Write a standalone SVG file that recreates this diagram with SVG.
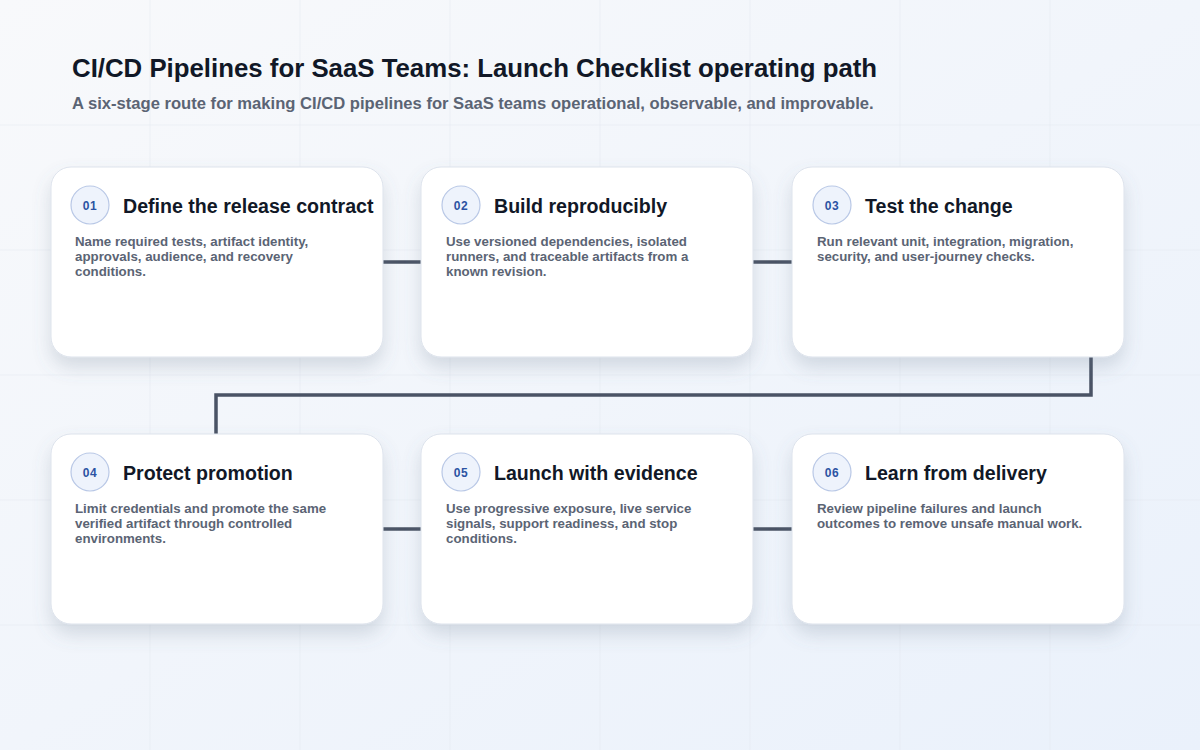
<svg xmlns="http://www.w3.org/2000/svg" width="1200" height="750" viewBox="0 0 1200 750">
  <defs>
    <linearGradient id="bg" x1="0" y1="0" x2="1" y2="1">
      <stop offset="0" stop-color="#f8f9fb"/>
      <stop offset="1" stop-color="#eaf1fb"/>
    </linearGradient>
    <filter id="shadow" x="-20%" y="-20%" width="140%" height="150%">
      <feDropShadow dx="0" dy="10" stdDeviation="9" flood-color="#64748b" flood-opacity="0.22"/>
    </filter>
  </defs>
  <style>
    .title { font-family: "Liberation Sans", Arial, sans-serif; font-weight: 700; font-size: 25.8px; fill: #111827; }
    .subtitle { font-family: "Liberation Sans", Arial, sans-serif; font-weight: 700; font-size: 16.6px; fill: #5b6474; }
    .card { fill: #ffffff; stroke: #dde3ec; stroke-width: 1; filter: url(#shadow); }
    .badge { fill: #eef3fc; stroke: #b9c8e6; stroke-width: 1.2; }
    .num { font-family: "Liberation Sans", Arial, sans-serif; font-weight: 700; font-size: 12px; fill: #2c53a3; text-anchor: middle; letter-spacing: 0.5px; }
    .ctitle { font-family: "Liberation Sans", Arial, sans-serif; font-weight: 700; font-size: 19.6px; fill: #111827; }
    .desc { font-family: "Liberation Sans", Arial, sans-serif; font-weight: 700; font-size: 13.3px; fill: #5b6474; }
    .conn { fill: none; stroke: #4a5365; stroke-width: 3.5; stroke-linejoin: miter; }
    .grid { stroke: #e3e8f0; stroke-width: 1; opacity: 0.5; }
  </style>
  <rect width="1200" height="750" fill="url(#bg)"/>
  <g id="grid">
    <line class="grid" x1="150" y1="0" x2="150" y2="750"/>
    <line class="grid" x1="300" y1="0" x2="300" y2="750"/>
    <line class="grid" x1="450" y1="0" x2="450" y2="750"/>
    <line class="grid" x1="600" y1="0" x2="600" y2="750"/>
    <line class="grid" x1="750" y1="0" x2="750" y2="750"/>
    <line class="grid" x1="900" y1="0" x2="900" y2="750"/>
    <line class="grid" x1="1050" y1="0" x2="1050" y2="750"/>
    <line class="grid" x1="0" y1="125" x2="1200" y2="125"/>
    <line class="grid" x1="0" y1="250" x2="1200" y2="250"/>
    <line class="grid" x1="0" y1="375" x2="1200" y2="375"/>
    <line class="grid" x1="0" y1="500" x2="1200" y2="500"/>
    <line class="grid" x1="0" y1="625" x2="1200" y2="625"/>
  </g>
  <text class="title" x="72" y="77">CI/CD Pipelines for SaaS Teams: Launch Checklist operating path</text>
  <text class="subtitle" x="72" y="109">A six-stage route for making CI/CD pipelines for SaaS teams operational, observable, and improvable.</text>

  <g id="connectors">
    <line class="conn" x1="383" y1="262" x2="421" y2="262"/>
    <line class="conn" x1="753" y1="262" x2="792" y2="262"/>
    <polyline class="conn" points="1091,357 1091,395 216,395 216,434"/>
    <line class="conn" x1="383" y1="529" x2="421" y2="529"/>
    <line class="conn" x1="753" y1="529" x2="792" y2="529"/>
  </g>

  <g id="node-01">
    <rect class="card" x="51" y="167" width="332" height="190" rx="20"/>
    <circle class="badge" cx="90" cy="205" r="19"/>
    <text class="num" x="90" y="209.5">01</text>
    <text class="ctitle" x="123" y="213">Define the release contract</text>
    <text class="desc" x="75" y="246">Name required tests, artifact identity,</text>
    <text class="desc" x="75" y="261">approvals, audience, and recovery</text>
    <text class="desc" x="75" y="276">conditions.</text>
  </g>
  <g id="node-02">
    <rect class="card" x="421" y="167" width="332" height="190" rx="20"/>
    <circle class="badge" cx="461" cy="205" r="19"/>
    <text class="num" x="461" y="209.5">02</text>
    <text class="ctitle" x="494" y="213">Build reproducibly</text>
    <text class="desc" x="446" y="246">Use versioned dependencies, isolated</text>
    <text class="desc" x="446" y="261">runners, and traceable artifacts from a</text>
    <text class="desc" x="446" y="276">known revision.</text>
  </g>
  <g id="node-03">
    <rect class="card" x="792" y="167" width="332" height="190" rx="20"/>
    <circle class="badge" cx="832" cy="205" r="19"/>
    <text class="num" x="832" y="209.5">03</text>
    <text class="ctitle" x="865" y="213">Test the change</text>
    <text class="desc" x="817" y="246">Run relevant unit, integration, migration,</text>
    <text class="desc" x="817" y="261">security, and user-journey checks.</text>
  </g>
  <g id="node-04">
    <rect class="card" x="51" y="434" width="332" height="190" rx="20"/>
    <circle class="badge" cx="90" cy="472" r="19"/>
    <text class="num" x="90" y="476.5">04</text>
    <text class="ctitle" x="123" y="480">Protect promotion</text>
    <text class="desc" x="75" y="513">Limit credentials and promote the same</text>
    <text class="desc" x="75" y="528">verified artifact through controlled</text>
    <text class="desc" x="75" y="543">environments.</text>
  </g>
  <g id="node-05">
    <rect class="card" x="421" y="434" width="332" height="190" rx="20"/>
    <circle class="badge" cx="461" cy="472" r="19"/>
    <text class="num" x="461" y="476.5">05</text>
    <text class="ctitle" x="494" y="480">Launch with evidence</text>
    <text class="desc" x="446" y="513">Use progressive exposure, live service</text>
    <text class="desc" x="446" y="528">signals, support readiness, and stop</text>
    <text class="desc" x="446" y="543">conditions.</text>
  </g>
  <g id="node-06">
    <rect class="card" x="792" y="434" width="332" height="190" rx="20"/>
    <circle class="badge" cx="832" cy="472" r="19"/>
    <text class="num" x="832" y="476.5">06</text>
    <text class="ctitle" x="865" y="480">Learn from delivery</text>
    <text class="desc" x="817" y="513">Review pipeline failures and launch</text>
    <text class="desc" x="817" y="528">outcomes to remove unsafe manual work.</text>
  </g>
</svg>
